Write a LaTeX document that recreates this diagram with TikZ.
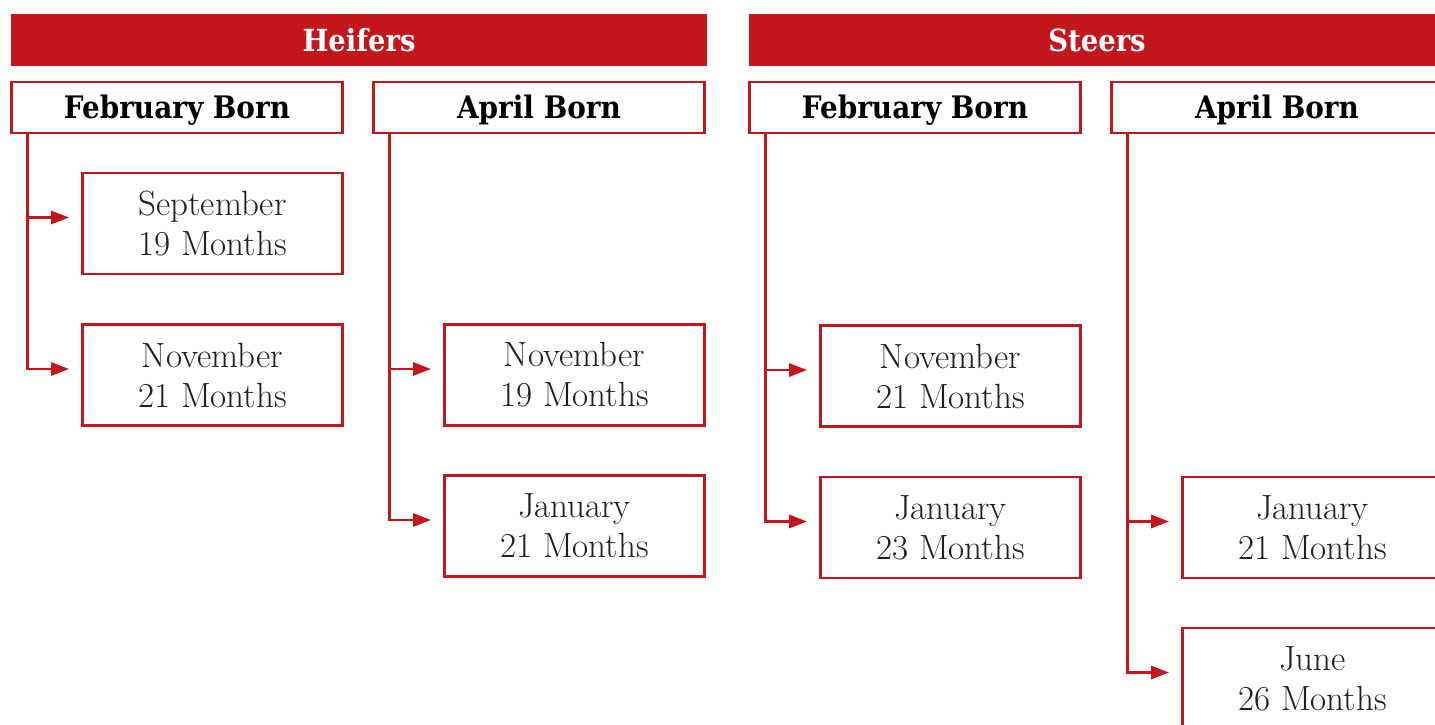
\documentclass[tikz,border=0pt]{standalone}
\usepackage{fontspec}
\usetikzlibrary{arrows.meta}
\newfontfamily\hdrfont{DejaVu Serif Condensed}
\definecolor{cred}{RGB}{196,22,29}
\begin{document}
\begin{tikzpicture}[x=1pt,y=-1pt,
  bar/.style={fill=cred,draw=none,minimum width=696pt,minimum height=52pt,inner sep=0pt,
    text height=22pt,text depth=0pt,
    text=white,font=\hdrfont\bfseries\fontsize{30.5}{34}\selectfont},
  hdr/.style={draw=cred,line width=2.8pt,fill=white,minimum width=331pt,minimum height=51pt,inner sep=0pt,
    text height=22.5pt,text depth=0pt,
    font=\hdrfont\bfseries\fontsize{31}{34}\selectfont},
  child/.style={draw=cred,line width=2.8pt,fill=white,minimum width=260pt,minimum height=101pt,inner sep=0pt,
    align=center,text=black!88,font=\fontsize{35}{40}\selectfont},
  conn/.style={draw=cred,line width=2.8pt,-{Triangle[length=18pt,width=13pt]},shorten >=12pt}]
\useasboundingbox (0,0) rectangle (1435,725);
\clip (0,0) rectangle (1435,725);
% group bars
\node[bar] (heifers) at (359,40.5) {Heifers};
\node[bar] (steers) at (1097,40.5) {Steers};
% header boxes
\node[hdr] (hf) at (177,107.5) {February Born};
\node[hdr] (ha) at (539,107.5) {April Born};
\node[hdr] (sf) at (915,107.5) {February Born};
\node[hdr] (sa) at (1277,107.5) {April Born};
% children
\node[child] (hfs) at (212.5,223.5) {September\\19 Months};
\node[child] (hfn) at (212.5,375) {November\\21 Months};
\node[child] (han) at (574.5,375) {November\\19 Months};
\node[child] (haj) at (574.5,526) {January\\21 Months};
\node[child] (sfn) at (950.5,376) {November\\21 Months};
\node[child] (sfj) at (950.5,527.5) {January\\23 Months};
\node[child] (saj) at (1312.5,527.5) {January\\21 Months};
\node[child] (sau) at (1312.5,678.5) {June\\26 Months};
% trunk starts
\coordinate (thf) at ([xshift=17pt]hf.south west);
\coordinate (tha) at ([xshift=17pt]ha.south west);
\coordinate (tsf) at ([xshift=17pt]sf.south west);
\coordinate (tsa) at ([xshift=17pt]sa.south west);
% connectors
\draw[conn] (thf) |- ([yshift=6pt]hfs.west);
\draw[conn] (thf) |- ([yshift=6pt]hfn.west);
\draw[conn] (tha) |- ([yshift=6pt]han.west);
\draw[conn] (tha) |- ([yshift=6pt]haj.west);
\draw[conn] (tsf) |- ([yshift=6pt]sfn.west);
\draw[conn] (tsf) |- ([yshift=6pt]sfj.west);
\draw[conn] (tsa) |- ([yshift=6pt]saj.west);
\draw[conn] (tsa) |- ([yshift=6pt]sau.west);
\end{tikzpicture}
\end{document}
